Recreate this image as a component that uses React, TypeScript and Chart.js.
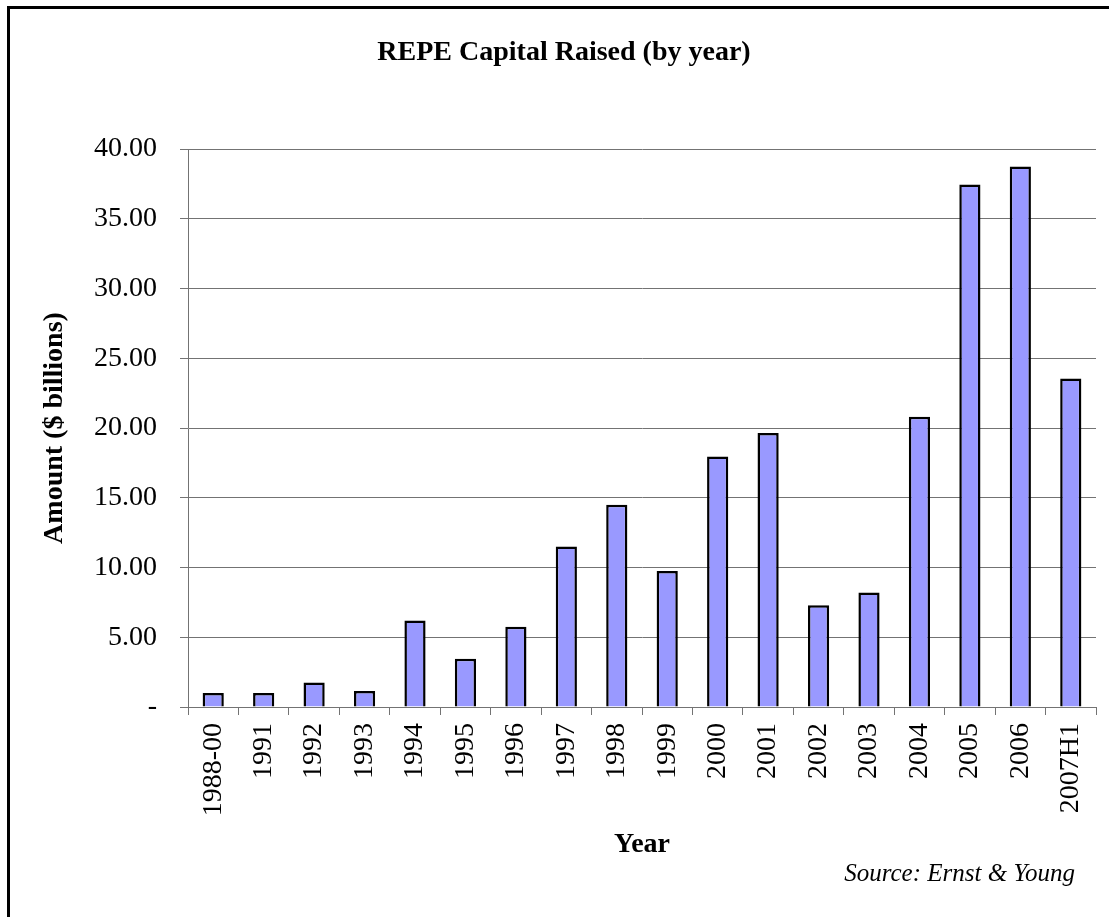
import React, { useEffect, useRef } from "react";
import { Chart, registerables } from "chart.js";

Chart.register(...registerables);

const categories = ["1988-00", "1991", "1992", "1993", "1994", "1995", "1996", "1997", "1998", "1999", "2000", "2001", "2002", "2003", "2004", "2005", "2006", "2007H1"];
const amounts = [1.0, 1.0, 1.75, 1.15, 6.2, 3.45, 5.75, 11.5, 14.5, 9.75, 17.95, 19.65, 7.3, 8.2, 20.8, 37.45, 38.75, 23.55];
const chartTitle = "REPE Capital Raised (by year)";
const yTitle = "Amount ($ billions)";
const xTitle = "Year";
const sourceNote = "Source: Ernst & Young";

const SERIF = '"Liberation Serif", "Times New Roman", serif';

const decorPlugin = {
  id: "decor",
  afterDraw(chart: any) {
    const ctx = chart.ctx;
    ctx.save();
    ctx.fillStyle = "#000";
    ctx.fillRect(7, 6, 3, 917);
    ctx.fillRect(7, 6, 1109, 3);
    ctx.font = `bold 28px ${SERIF}`;
    ctx.textAlign = "center";
    ctx.textBaseline = "middle";
    ctx.fillText(chartTitle, 564, 53);
    ctx.font = `italic 25px ${SERIF}`;
    ctx.textAlign = "right";
    ctx.fillText(sourceNote, 1075, 874);
    ctx.restore();
  },
};

export default function App() {
  const ref = useRef<HTMLCanvasElement | null>(null);
  useEffect(() => {
    if (!ref.current) return;
    const gridColor = "#737373";
    const chart = new Chart(ref.current, {
      type: "bar",
      data: {
        labels: categories,
        datasets: [
          {
            data: amounts,
            backgroundColor: "#9999FF",
            borderColor: "#000000",
            borderWidth: 2.5,
            categoryPercentage: 1,
            barPercentage: 0.42,
          },
        ],
      },
      options: {
        responsive: false,
        animation: false,
        layout: { padding: { top: 149, left: 10, right: 13, bottom: 50 } },
        plugins: { legend: { display: false }, tooltip: { enabled: false }, title: { display: false } },
        scales: {
          x: {
            grid: { display: true, drawOnChartArea: false, drawTicks: true, tickLength: 8, color: gridColor, offset: true },
            border: { display: true, color: gridColor, width: 1 },
            ticks: {
              color: "#000",
              font: { family: SERIF, size: 28 },
              minRotation: 90,
              maxRotation: 90,
              autoSkip: false,
              padding: 8,
            },
            title: { display: true, text: xTitle, color: "#000", font: { family: SERIF, size: 28, weight: "bold" }, padding: { top: 0, bottom: 5 } },
            afterFit(scale: any) {
              scale.height = 160;
              scale.paddingLeft = 0;
              scale.paddingRight = 0;
            },
          },
          y: {
            min: 0,
            max: 40,
            grid: { color: gridColor, tickLength: 8, drawTicks: true },
            border: { display: true, color: gridColor, width: 1 },
            ticks: {
              stepSize: 5,
              color: "#000",
              font: { family: SERIF, size: 28 },
              padding: 23,
              callback: (v: any) => (Number(v) === 0 ? "-" : Number(v).toFixed(2)),
            },
            title: { display: true, text: yTitle, color: "#000", font: { family: SERIF, size: 28, weight: "bold" }, padding: { top: 28, bottom: 0 } },
            afterFit(scale: any) {
              scale.width = 178;
            },
          },
        },
      },
      plugins: [decorPlugin],
    });
    return () => chart.destroy();
  }, []);
  return (
    <div style={{ position: "fixed", left: 0, top: 0, width: 1109, height: 917, background: "#fff" }}>
      <canvas ref={ref} width={1109} height={917} style={{ width: 1109, height: 917, display: "block" }} />
    </div>
  );
}
